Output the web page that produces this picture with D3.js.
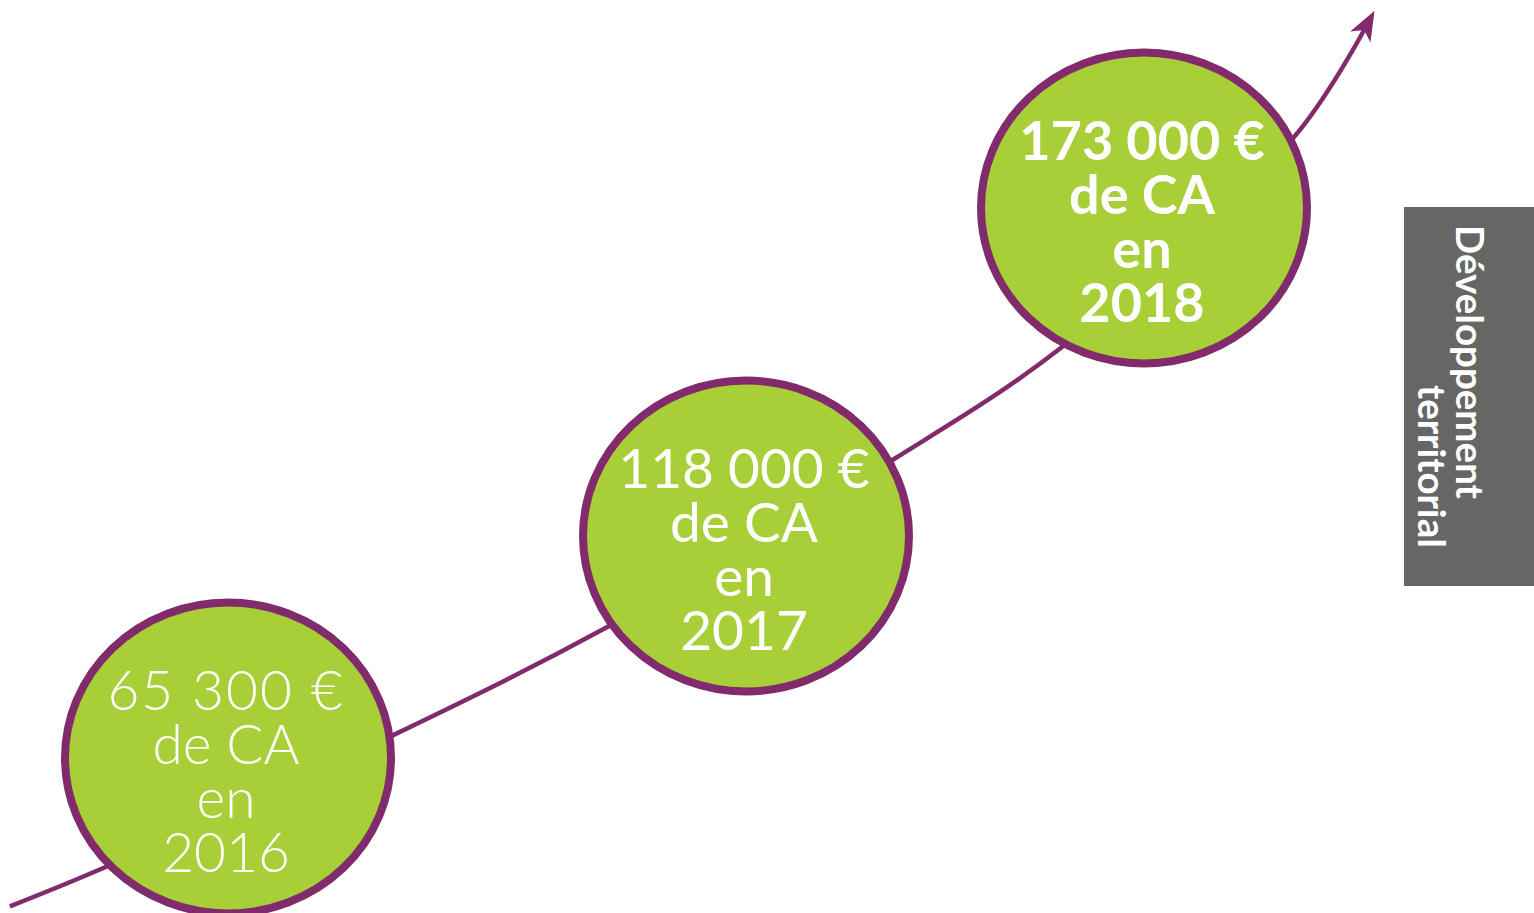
<!DOCTYPE html>
<html>
<head>
<meta charset="utf-8">
<script src="https://cdn.jsdelivr.net/npm/d3@7"></script>
<style>
  html, body { margin: 0; padding: 0; background: #ffffff; }
  svg { display: block; }
</style>
</head>
<body>
<div id="chart"></div>
<script>
// ---- Data ----
const years = [2016, 2017, 2018];
const revenues = [65300, 118000, 173000];
const amountLabels = ["65 300 €", "118 000 €", "173 000 €"];
const caLabels = ["de CA", "de CA", "de CA"];
const enLabels = ["en", "en", "en"];
const yearLabels = ["2016", "2017", "2018"];
// growth arrow running behind the bubbles (year, revenue-equivalent)
const trendYears = [2015.579, 2015.766, 2016.319, 2016.734, 2017.372, 2017.794, 2018.377, 2018.553];
const trendValues = [30088, 39541, 70735, 96494, 130912, 149692, 184905, 202848];
const sideTitle = ["Développement", "territorial"];

// ---- Layout ----
const W = 1534, H = 913;
const purple = "#812b6d";
const green = "#a8cf38";
const weights = [300, 400, 700];

const svg = d3.select("#chart").append("svg")
  .attr("width", W).attr("height", H);

const x = d3.scaleLinear().domain(years).range([228, 746, 1144]);
const y = d3.scaleLinear().domain(revenues).range([758, 536, 208]);

// arrow marker
svg.append("defs").append("marker")
  .attr("id", "arrow")
  .attr("markerUnits", "userSpaceOnUse")
  .attr("markerWidth", 40).attr("markerHeight", 40)
  .attr("viewBox", "-12 -14 40 28")
  .attr("refX", 0).attr("refY", 0)
  .attr("orient", "auto")
  .append("path")
  .attr("d", "M22,0 L-8,-11.5 L0,0 L-8,11.5 Z")
  .attr("fill", purple);

const trend = trendYears.map((t, i) => [x(t), y(trendValues[i])]);
svg.append("path")
  .datum(trend)
  .attr("d", d3.line().curve(d3.curveCatmullRom.alpha(0.5)))
  .attr("fill", "none")
  .attr("stroke", purple)
  .attr("stroke-width", 4.5)
  .attr("marker-end", "url(#arrow)");

// bubbles
const g = svg.selectAll("g.bubble").data(years).join("g")
  .attr("class", "bubble")
  .attr("transform", (d, i) => `translate(${x(d)},${y(revenues[i])})`);

g.append("ellipse")
  .attr("rx", 163).attr("ry", 155.5)
  .attr("fill", green)
  .attr("stroke", purple)
  .attr("stroke-width", 8);

const lineGap = 54;
g.each(function(d, i) {
  const t = d3.select(this).append("text")
    .attr("text-anchor", "middle")
    .attr("fill", "#ffffff")
    .attr("font-family", "Lato, 'Open Sans', sans-serif")
    .attr("font-weight", weights[i])
    .attr("font-size", i === 2 ? 54 : 55);
  [amountLabels[i], caLabels[i], enLabels[i], yearLabels[i]].forEach((s, k) => {
    t.append("tspan")
      .attr("x", -2)
      .attr("y", -48 + k * lineGap)
      .attr("letter-spacing", (i === 0 && k === 0) ? 2 : 0)
      .text(s);
  });
});

// side tab
svg.append("rect")
  .attr("x", 1404).attr("y", 207)
  .attr("width", 130).attr("height", 379)
  .attr("fill", "#666666");

const tabPos = [[1456, 225], [1418, 385]];
svg.selectAll("text.side").data(sideTitle).join("text")
  .attr("class", "side")
  .attr("transform", (d, i) => `translate(${tabPos[i][0]},${tabPos[i][1]}) rotate(90)`)
  .attr("fill", "#ffffff")
  .attr("font-family", "Lato, sans-serif")
  .attr("font-weight", 700)
  .attr("font-size", 38.5)
  .text(d => d);
</script>
</body>
</html>
